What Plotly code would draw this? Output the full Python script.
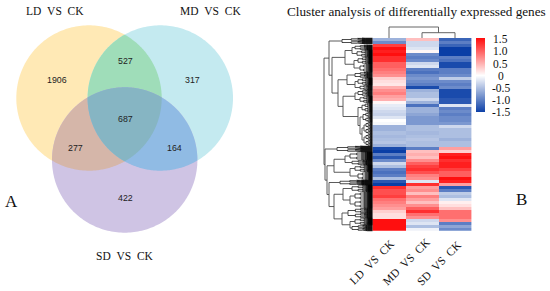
import numpy as np
import plotly.graph_objects as go

W, H = 550, 291
SERIF = "Liberation Serif"
SANS = "Liberation Sans"

# ---------- data ----------
venn_sets = ["LD\u00a0\u00a0VS\u00a0\u00a0CK", "MD\u00a0\u00a0VS\u00a0\u00a0CK", "SD\u00a0\u00a0VS\u00a0\u00a0CK"]
venn_counts = [1906, 527, 317, 687, 277, 164, 422]
heat_columns = venn_sets
ld_values = [-.6,-.9,1.2,1.5,1.4,1.5,1.3,1.3,1.0,1.0,.9,.8,.7,.3,.2,.15,.5,.7,.8,.6,.5,.05,-.15,-.2,-.3,-.35,-.2,0,-.05,
             -.6,-.6,-.5,-.55,-.5,-.45,-.6,-1.4,-1.5,-1.0,-1.3,-.9,-.3,-.5,-1.0,-1.1,-1.0,-.5,-1.3,-1.5,
             1.3,1.1,1.1,1.2,.9,.8,.7,.6,.3,.2,.2,1.5,1.5,1.5,1.5]
md_values = [.4,-.3,-.3,-.2,.05,-.9,-1.0,-.9,-.3,-.2,-1.0,-1.1,-.9,-.8,-.9,-1.0,-1.4,-.6,-.5,-.5,-.3,-.6,-1.1,-.6,-.6,-.7,-.8,-.8,-.8,
             -.5,-.5,-.55,-.5,-.45,-.5,-.5,-1.0,.4,.5,.4,.7,1.0,1.2,1.3,1.1,.8,.7,-.2,1.3,
             .6,.7,.4,.8,.6,.4,.7,1.0,1.3,.9,.7,-.3,-.2,-.5,-.1]
sd_values = [-1.2,-1.0,-1.2,-1.5,-1.5,-1.5,-1.0,-1.1,-1.4,-1.4,-1.0,-1.0,-.9,-.4,-.9,-1.0,-.9,-1.4,-1.4,-1.4,-1.3,-1.3,-.2,-1.0,-.9,-1.0,-.9,-.9,-.8,
             -.3,-.5,-.5,-.5,-.6,-.5,-.5,.6,.3,1.4,1.5,1.3,1.4,1.4,1.2,1.0,1.0,1.5,1.4,.6,
             -1.3,-1.0,-.4,-.5,-.2,.1,.2,.4,.9,.9,.9,.7,-1.0,-.7,-.9]
bar_ticks = [1.5, 1.0, 0.5, 0, -0.5, -1.0, -1.5]
bar_labels = ["1.5", "1.0", "0.5", "0", "-0.5", "-1.0", "-1.5"]
title_text = "Cluster analysis of differentially expressed genes"

# ---------- layout constants (pixels) ----------
venn_circles = [(89, 98, 72.7), (160.3, 98, 72.7), (124.7, 160, 72.7)]
colors = {"a": "#FFE9B5", "b": "#C4EAF0", "c": "#CFC4E4",
          "ab": "#9FDDB9", "ac": "#D5B6A9", "bc": "#90BBE4", "abc": "#86B5C3"}
count_pos = [(57, 79.5), (125, 61), (192, 79.5), (125, 119), (75, 148), (174, 148), (125, 198)]
HX0, HX1, HY0, HY1 = 372.5, 471.8, 38, 230.8
BX0, BX1, BY0, BY1 = 476, 485.3, 38, 112
SCALE = [[0, "#0A3EA6"], [0.5, "#FFFFFF"], [1, "#FF0F0F"]]


def lens_path(ids):
    """outline of an intersection of circles (convex), scanned around its centre"""
    cs = [venn_circles[i] for i in ids]
    cx = np.mean([c[0] for c in cs])
    cy = np.mean([c[1] for c in cs])
    pts = []
    for t in np.linspace(0, 2 * np.pi, 240, endpoint=False):
        dx, dy = np.cos(t), np.sin(t)
        rs = []
        for (x, y, r) in cs:
            ox, oy = cx - x, cy - y
            b = ox * dx + oy * dy
            rs.append(-b + np.sqrt(max(b * b - (ox * ox + oy * oy - r * r), 0)))
        d = min(rs)
        pts.append(f"{cx + d * dx:.2f},{cy + d * dy:.2f}")
    return "M" + " L".join(pts) + " Z"


shapes = []
for ids, key in [((0,), "a"), ((1,), "b"), ((2,), "c"), ((0, 1), "ab"), ((0, 2), "ac"), ((1, 2), "bc"), ((0, 1, 2), "abc")]:
    shapes.append(dict(type="path", path=lens_path(ids), xref="x", yref="y", fillcolor=colors[key],
                       line=dict(width=0), layer="below"))

fig = go.Figure()

# heatmap
z = [list(r) for r in zip(ld_values, md_values, sd_values)]
fig.add_trace(go.Heatmap(z=z, x=heat_columns, xaxis="x2", yaxis="y2", zmin=-1.5, zmax=1.5,
                         colorscale=SCALE, showscale=False, hoverinfo="skip"))
# colour key: a gradient strip on its own value axis
key_levels = np.linspace(-1.5, 1.5, 75)
fig.add_trace(go.Heatmap(z=[[v] for v in key_levels], y=key_levels, x=[0], xaxis="x3", yaxis="y3", zmin=-1.5, zmax=1.5,
                         colorscale=SCALE, showscale=False, hoverinfo="skip"))


# dendrogram: nested (x, children); a leaf tuft is (y0, y1, x)
def T(a, b, x):
    return ("t", a, b, x)


def N(x, *kids):
    return ("n", x, kids)


row_tree = N(324,
    N(329,
      T(38, 44, 342),
      N(332,
        N(345, N(352, T(45, 50, 355), T(50, 57, 357)), N(354, T(57, 64, 358), T(64, 72, 360))),
        N(338,
          N(347, T(72, 78, 355), N(355, T(78, 85, 358), T(85, 90, 360))),
          N(343,
            N(355, T(90, 96, 358), T(96, 103, 360)),
            N(358, T(103, 112, 362),
              N(360, T(112, 122, 363),
                N(362, N(364, T(122, 128, 366), T(128, 134, 366)), N(364, T(134, 140, 366), T(140, 146, 366)))))))),
      ),
    N(325,
      T(146, 152, 337),
      N(327,
        N(334,
          N(345, T(152, 160, 350), T(160, 165, 352)),
          N(350, T(165, 172, 355), T(172, 180, 358))),
        N(329,
          T(180, 185, 340),
          N(334,
            N(343, T(185, 192, 352), N(350, T(192, 200, 355), T(200, 208, 355))),
            N(342, T(208, 218, 348), N(350, T(218, 225, 355), T(225, 231, 352))))))))

tx, ty, lx, ly = [], [], [], []


def tuft(a, b, x):
    m = (a + b) / 2
    if b - a < 0.4:
        lx.extend([x, HX0, None]); ly.extend([m, m, None])
        return m
    nx = x + (HX0 - x) * 0.3
    u = tuft(a, m, nx)
    v = tuft(m, b, nx)
    lx.extend([nx, x, x, x, nx, None]); ly.extend([u, u, v, v, v, None])
    return (u + v) / 2


def walk(n):
    if n[0] == "t":
        return n[3], tuft(n[1], n[2], n[3])
    x = n[1]
    ends = [walk(k) for k in n[2]]
    ys = [e[1] for e in ends]
    for ex, ey in ends:
        tx.extend([x, ex, None]); ty.extend([ey, ey, None])
    tx.extend([x, x, None]); ty.extend([min(ys), max(ys), None])
    return x, (min(ys) + max(ys)) / 2


walk(row_tree)
fig.add_trace(go.Scatter(x=lx, y=ly, mode="lines", line=dict(color="#000000", width=0.7), hoverinfo="skip", showlegend=False))
fig.add_trace(go.Scatter(x=tx, y=ty, mode="lines", line=dict(color="#4a4a4a", width=0.9), hoverinfo="skip", showlegend=False))
# column dendrogram
col_x = [389, 389, 438.5, 438.5, None, 422, 422, 455, 455]
col_y = [38, 27, 27, 32.7, None, 38, 32.7, 32.7, 38]
fig.add_trace(go.Scatter(x=col_x, y=col_y, mode="lines", line=dict(color="#555555", width=0.9), hoverinfo="skip", showlegend=False))

anns = []


def text(x, y, s, size, family=SERIF, color="#111111", **kw):
    anns.append(dict(x=x, y=y, xref="x", yref="y", text=s, showarrow=False, xanchor="center", yanchor="middle",
                     font=dict(family=family, size=size, color=color), **kw))


for c, (x, y) in zip(venn_counts, count_pos):
    text(x, y, str(c), 8.8, SANS, "#222222")
text(55, 11, venn_sets[0], 11.5)
text(210, 11, venn_sets[1], 11.5)
text(125, 256, venn_sets[2], 11.5)
text(11, 201, "A", 17)
text(521, 199, "B", 17)
text(416, 11, title_text, 13.2)
for v, s in zip(bar_ticks, bar_labels):
    text(500.5, 39.3 + (1.5 - v) / 3 * 72.7, s, 11.5)
for s, x, y in zip(heat_columns, [372, 406, 439], [262, 262, 262.5]):
    text(x, y, s, 11.5, textangle=-45)

fig.update_layout(
    width=W, height=H, margin=dict(l=0, r=0, t=0, b=0, autoexpand=False), paper_bgcolor="white", plot_bgcolor="rgba(0,0,0,0)",
    showlegend=False, shapes=shapes, annotations=anns,
    xaxis=dict(range=[0, W], domain=[0, 1], visible=False, fixedrange=True),
    yaxis=dict(range=[H, 0], domain=[0, 1], visible=False, fixedrange=True),
    xaxis2=dict(domain=[HX0 / W, HX1 / W], anchor="y2", visible=False),
    yaxis2=dict(domain=[1 - HY1 / H, 1 - HY0 / H], anchor="x2", autorange="reversed", visible=False),
    xaxis3=dict(domain=[BX0 / W, BX1 / W], anchor="y3", visible=False),
    yaxis3=dict(domain=[1 - BY1 / H, 1 - BY0 / H], anchor="x3", range=[-1.5, 1.5], visible=False),
)
fig.write_html("out.html", config=dict(displayModeBar=False),
               post_script="document.body.style.margin='0';document.documentElement.style.overflow='hidden';")
